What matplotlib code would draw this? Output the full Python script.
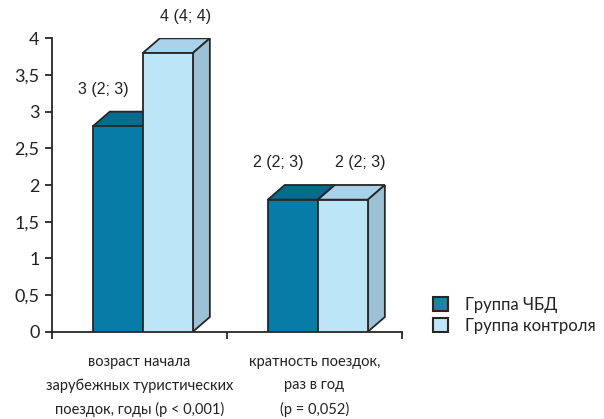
import matplotlib
matplotlib.use("Agg")
import matplotlib.pyplot as plt
from matplotlib.patches import Polygon, Patch
from matplotlib.ticker import FuncFormatter

categories = ["возраст начала\nзарубежных туристических\nпоездок, годы (p < 0,001)",
              "кратность поездок,\nраз в год\n(p = 0,052)"]
series = ["Группа ЧБД", "Группа контроля"]
values = [[3, 2],   # Группа ЧБД
          [4, 2]]   # Группа контроля
labels = [["3 (2; 3)", "2 (2; 3)"],
          ["4 (4; 4)", "2 (2; 3)"]]

# faces: front, top, side
colors = [("#067ca6", "#056b8f", "#05648a"),
          ("#bde5f8", "#a8d2e9", "#9cc0d4")]
legend_colors = ["#1f83a6", "#c0e6f7"]
edge = "#262626"

DX, DY = 0.097, 0.2     # depth of the pseudo-3D boxes, in data units
W, X0 = 0.286, 0.233    # bar width and offset inside each category slot

fig = plt.figure(figsize=(6.04, 4.19), dpi=100)
ax = fig.add_axes([52 / 604, (419 - 331.7) / 419, 350 / 604, 293.4 / 419])
ax.set_xlim(0, 2)
ax.set_ylim(0, 4)

for s, (vals, labs, (cf, ct, cs)) in enumerate(zip(values, labels, colors)):
    xs = [i + X0 + s * W for i in range(len(vals))]
    fronts = [v - DY for v in vals]
    ax.bar(xs, fronts, width=W, align="edge", color=cf, edgecolor=edge,
           linewidth=1.3, zorder=3 + 2 * s)
    for x, f, v, lab in zip(xs, fronts, vals, labs):
        top = [(x, f), (x + DX, v), (x + W + DX, v), (x + W, f)]
        side = [(x + W, 0), (x + W + DX, DY), (x + W + DX, v), (x + W, f)]
        ax.add_patch(Polygon(top, closed=True, fc=ct, ec=edge, lw=1.3,
                             zorder=2 + 2 * s, joinstyle="miter"))
        ax.add_patch(Polygon(side, closed=True, fc=cs, ec=edge, lw=1.3,
                             zorder=2 + 2 * s, joinstyle="miter"))
        shift = -0.13 if s == 0 else 0.05
        ax.text(x + (W + DX) / 2 + shift, v + 0.3, lab, ha="center", va="center",
                fontsize=11.5, family="Liberation Sans", color="#222222")

for sp in ("top", "right"):
    ax.spines[sp].set_visible(False)
for sp in ("left", "bottom"):
    ax.spines[sp].set_color(edge)
    ax.spines[sp].set_linewidth(1.3)

ax.set_yticks([0, 0.5, 1, 1.5, 2, 2.5, 3, 3.5, 4])
ax.yaxis.set_major_formatter(FuncFormatter(lambda v, _: f"{v:g}".replace(".", ",")))
ax.tick_params(axis="y", length=5, width=1.3, color=edge, pad=4,
               labelsize=13, labelcolor="#222222")
ax.set_xticks([0.5, 1.5])
ax.set_xticklabels(categories, family="Lato", fontsize=10.5, color="#222222",
                   linespacing=1.8)
ax.set_xticks([0, 1, 2], minor=True)
ax.tick_params(axis="x", which="major", length=0, pad=17)
ax.tick_params(axis="x", which="minor", length=5, width=1.3, color=edge)
for t in ax.get_yticklabels():
    t.set_family("Lato")

handles = [Patch(fc=c, ec=edge, lw=1.5) for c in legend_colors]
fig.legend(handles, series, loc="upper left", bbox_to_anchor=(418 / 604, 1 - 282 / 419),
           frameon=False, prop={"family": "Lato", "size": 12},
           handlelength=0.9, handleheight=0.9, handletextpad=1.0, labelspacing=0.3,
           labelcolor="#222222")

fig.savefig("out.png", dpi=100)
